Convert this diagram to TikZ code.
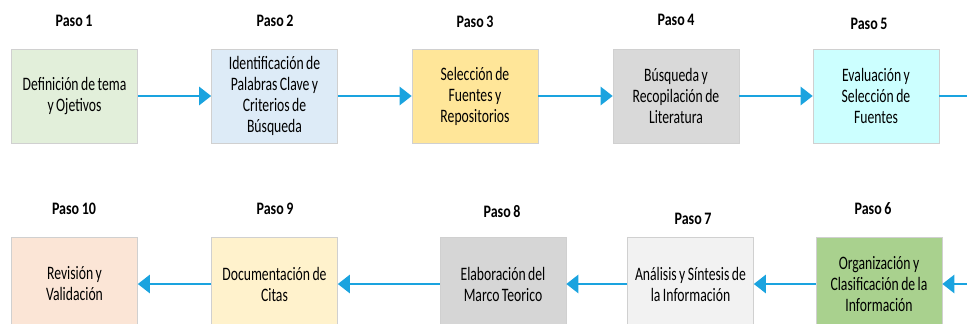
\documentclass[tikz,border=0pt]{standalone}
\usepackage{fontspec}
\setmainfont{Carlito}
\newfontfamily\boxfont{Carlito}[FakeStretch=0.72, WordSpace=0.8]
\newfontfamily\labelfont{Carlito}[FakeStretch=0.8, WordSpace=0.8]
\usetikzlibrary{arrows.meta}
\definecolor{arrowblue}{HTML}{1AA3DF}
\definecolor{boxline}{HTML}{D0D0D0}
\definecolor{cA}{HTML}{E2EFDA}
\definecolor{cB}{HTML}{DDEBF7}
\definecolor{cC}{HTML}{FFE699}
\definecolor{cD}{HTML}{D9D9D9}
\definecolor{cE}{HTML}{CCFFFF}
\definecolor{cF}{HTML}{A9D18E}
\definecolor{cG}{HTML}{F2F2F2}
\definecolor{cH}{HTML}{D6D6D6}
\definecolor{cI}{HTML}{FFF2CC}
\definecolor{cJ}{HTML}{FBE5D6}
\tikzset{
  stepbox/.style={draw=boxline, line width=0.6pt, minimum width=126pt, minimum height=94pt,
    align=center, inner sep=0pt, font=\boxfont\fontsize{19}{21}\selectfont},
  steplabel/.style={font=\labelfont\bfseries\fontsize{17.5}{19}\selectfont, inner sep=0pt},
  flow/.style={draw=arrowblue, line width=2.6pt, -{Triangle[length=12pt,width=18pt]}}
}
\begin{document}
\begin{tikzpicture}[x=1pt,y=-1pt]
\useasboundingbox (0,0) rectangle (967,324);
\clip (0,0) rectangle (967,324);
% top row
\node[stepbox, fill=cA] (s1) at (74.5,96) {Definición de tema\\y Ojetivos};
\node[stepbox, fill=cB] (s2) at (274.5,96) {Identificación de\\Palabras Clave y\\Criterios de\\Búsqueda};
\node[stepbox, fill=cC] (s3) at (475,96) {Selección de\\Fuentes y\\Repositorios};
\node[stepbox, fill=cD] (s4) at (676,96) {Búsqueda y\\Recopilación de\\Literatura};
\node[stepbox, fill=cE] (s5) at (876,96) {Evaluación y\\Selección de\\Fuentes};
% bottom row
\node[stepbox, fill=cJ] (s10) at (74.5,284) {Revisión y\\Validación};
\node[stepbox, fill=cI] (s9) at (274.5,284) {Documentación de\\Citas};
\node[stepbox, fill=cH] (s8) at (503,284) {Elaboración del\\Marco Teorico};
\node[stepbox, fill=cG] (s7) at (690.5,284) {Análisis y Síntesis de\\la Información};
\node[stepbox, fill=cF] (s6) at (879,284) {Organización y\\Clasificación de la\\Información};
% labels
\node[steplabel] (p1) at (74,21) {Paso 1};
\node[steplabel] (p2) at (275,21) {Paso 2};
\node[steplabel] (p3) at (475,22) {Paso 3};
\node[steplabel] (p4) at (676,20) {Paso 4};
\node[steplabel] (p5) at (869,24) {Paso 5};
\node[steplabel] (p10) at (74,209) {Paso 10};
\node[steplabel] (p9) at (275,209) {Paso 9};
\node[steplabel] (p8) at (502,212) {Paso 8};
\node[steplabel] (p7) at (693,219) {Paso 7};
\node[steplabel] (p6) at (873,209) {Paso 6};
% connectors
\coordinate (outR) at (967,96);
\coordinate (inR) at (970,284);
\draw[flow] (s1) -- (s2);
\draw[flow] (s2) -- (s3);
\draw[flow] (s3) -- (s4);
\draw[flow] (s4) -- (s5);
\draw[flow, -] (s5.east) -- (outR);
\draw[flow] (inR) -- (s6.east);
\draw[flow] (s6) -- (s7);
\draw[flow] (s7) -- (s8);
\draw[flow] (s8) -- (s9);
\draw[flow] (s9) -- (s10);
\end{tikzpicture}
\end{document}
